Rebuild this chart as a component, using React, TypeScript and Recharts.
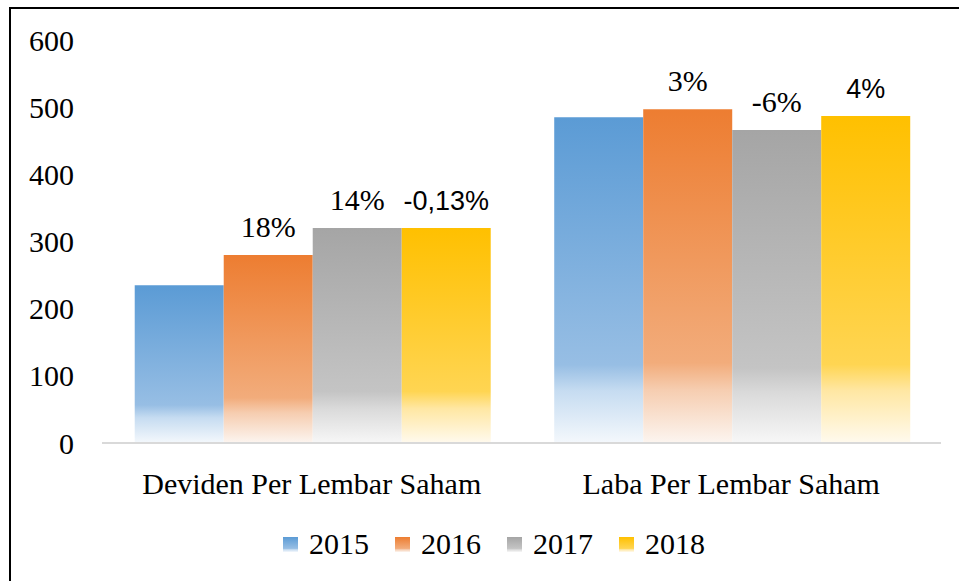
import React from 'react';
import { BarChart, Bar, XAxis, YAxis, Legend, LabelList } from 'recharts';

const categories = ['Deviden Per Lembar Saham', 'Laba Per Lembar Saham'];
const years = ['2015', '2016', '2017', '2018'];
const v2015 = [235, 485];
const v2016 = [280, 497];
const v2017 = [320, 466];
const v2018 = [320, 487];
const labels2016 = ['18%', '3%'];
const labels2017 = ['14%', '-6%'];
const labels2018 = ['-0,13%', '4%'];
const yTicks = [0, 100, 200, 300, 400, 500, 600];

const data = categories.map((c, i) => ({
  name: c,
  y2015: v2015[i],
  y2016: v2016[i],
  y2017: v2017[i],
  y2018: v2018[i],
  l2016: labels2016[i],
  l2017: labels2017[i],
  l2018: labels2018[i],
}));

const SERIF = '"Times New Roman", Times, Tinos, "Liberation Serif", "Noto Serif", FreeSerif, "DejaVu Serif", Georgia, serif';
const SANS = '"Liberation Sans", Arial, sans-serif';

const grads = [
  { id: 'g2015', stops: ['#5B9BD5', '#97BEE4', '#C6DCF1', '#F4F8FC'] },
  { id: 'g2016', stops: ['#ED7D31', '#F2AC7B', '#F6CDB0', '#FCF5F0'] },
  { id: 'g2017', stops: ['#A5A5A5', '#C4C4C4', '#DADADA', '#F7F7F7'] },
  { id: 'g2018', stops: ['#FFC000', '#FFD552', '#FFE7A3', '#FFFAEE'] },
];

const makeLabel = (font: string, size: number) => (props: any) => {
  const { x, y, width, value } = props;
  if (!value) return null;
  return (
    <text
      x={Number(x) + Number(width) / 2}
      y={Number(y) - 18}
      textAnchor="middle"
      style={{ fontFamily: font, fontSize: size }}
      fill="#000"
    >
      {value}
    </text>
  );
};

const renderLegend = () => (
  <div style={{ display: 'flex', alignItems: 'center', fontFamily: SERIF, fontSize: 30, color: '#000' }}>
    {years.map((yr, i) => (
      <div key={yr} style={{ display: 'flex', alignItems: 'center', marginRight: i < years.length - 1 ? 26 : 0 }}>
        <svg width={15} height={15} style={{ marginRight: 11, display: 'block' }}>
          <rect x={0} y={0} width={15} height={15} fill={`url(#${grads[i].id})`} />
        </svg>
        <span style={{ lineHeight: '30px', fontFamily: SERIF }}>{yr}</span>
      </div>
    ))}
  </div>
);

const tickStyle = { fontSize: 30, fill: '#000', style: { fontFamily: SERIF } };

export default function App() {
  return (
    <div style={{ position: 'absolute', left: 0, top: 0, width: 959, height: 581, background: '#fff', overflow: 'hidden', fontFamily: SERIF }}>
      <div
        style={{
          position: 'absolute',
          left: 9,
          top: 7,
          width: 960,
          height: 580,
          borderTop: '2px solid #000',
          borderLeft: '2px solid #000',
          boxSizing: 'border-box',
        }}
      />
      <div style={{ position: 'absolute', left: 0, top: 0 }}>
        <BarChart
          width={959}
          height={581}
          data={data}
          margin={{ top: 40, right: 18, left: 0, bottom: 0 }}
          barGap={0}
          barCategoryGap="7.8%"
          style={{ fontFamily: SERIF }}
        >
          <defs>
            {grads.map((g) => (
              <linearGradient key={g.id} id={g.id} x1="0" y1="0" x2="0" y2="1">
                <stop offset="0" stopColor={g.stops[0]} />
                <stop offset="0.76" stopColor={g.stops[1]} />
                <stop offset="0.84" stopColor={g.stops[2]} />
                <stop offset="1" stopColor={g.stops[3]} />
              </linearGradient>
            ))}
          </defs>
          <XAxis
            dataKey="name"
            height={138}
            tickLine={false}
            axisLine={{ stroke: '#D9D9D9', strokeWidth: 2 }}
            tickMargin={24}
            tick={tickStyle}
            interval={0}
          />
          <YAxis
            width={102}
            domain={[0, 600]}
            ticks={yTicks}
            axisLine={false}
            tickLine={false}
            tickMargin={22}
            tick={tickStyle}
          />
          <Legend
            layout="horizontal"
            verticalAlign="middle"
            align="center"
            content={renderLegend}
            wrapperStyle={{ left: 283, top: 529, width: 'auto', height: 30 }}
          />
          <Bar dataKey="y2015" name="2015" fill="url(#g2015)" isAnimationActive={false} />
          <Bar dataKey="y2016" name="2016" fill="url(#g2016)" isAnimationActive={false}>
            <LabelList dataKey="l2016" content={makeLabel(SERIF, 30)} />
          </Bar>
          <Bar dataKey="y2017" name="2017" fill="url(#g2017)" isAnimationActive={false}>
            <LabelList dataKey="l2017" content={makeLabel(SERIF, 30)} />
          </Bar>
          <Bar dataKey="y2018" name="2018" fill="url(#g2018)" isAnimationActive={false}>
            <LabelList dataKey="l2018" content={makeLabel(SANS, 27)} />
          </Bar>
        </BarChart>
      </div>
    </div>
  );
}
